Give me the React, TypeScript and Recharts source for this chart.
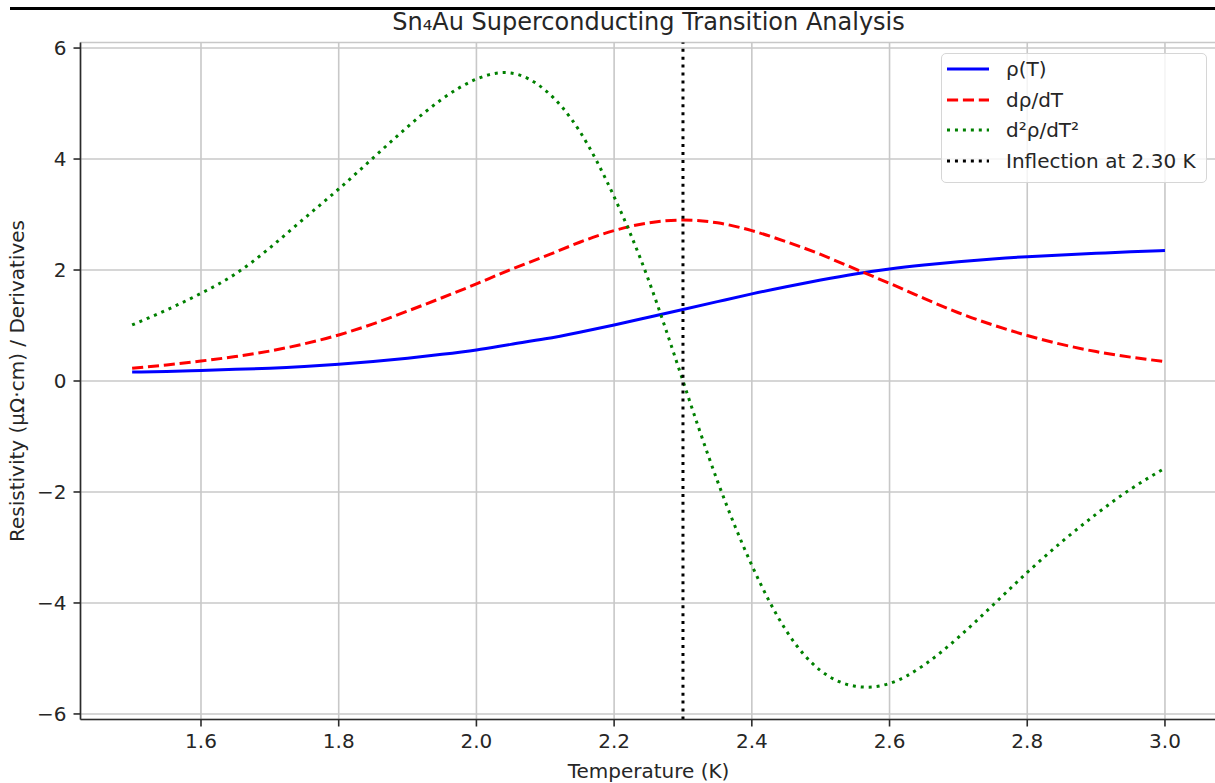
import React from 'react';
import { LineChart, Line, XAxis, YAxis, CartesianGrid, ReferenceLine } from 'recharts';

// temperature samples (K)
const temps = [
  1.5, 1.55, 1.6, 1.65, 1.7, 1.75, 1.8, 1.85, 1.9, 1.95, 2.0, 2.05, 2.1, 2.15, 2.2, 2.25,
  2.3, 2.35, 2.4, 2.45, 2.5, 2.55, 2.6, 2.65, 2.7, 2.75, 2.8, 2.85, 2.9, 2.95, 3.0,
];

// ρ(T)
const rho = [
  0.16, 0.17, 0.19, 0.21, 0.23, 0.26, 0.3, 0.35, 0.41, 0.48, 0.56, 0.66, 0.76, 0.88, 1.01, 1.15,
  1.29, 1.43, 1.57, 1.7, 1.82, 1.93, 2.02, 2.09, 2.15, 2.2, 2.24, 2.27, 2.3, 2.33, 2.35,
];

// dρ/dT
const dRho = [
  0.23, 0.29, 0.36, 0.44, 0.54, 0.67, 0.83, 1.03, 1.26, 1.5, 1.75, 2.01, 2.25, 2.5, 2.71, 2.85,
  2.9, 2.85, 2.71, 2.51, 2.28, 2.02, 1.76, 1.49, 1.23, 1.01, 0.82, 0.66, 0.53, 0.43, 0.35,
];

// d²ρ/dT²
const d2Rho = [
  1.01, 1.28, 1.58, 1.93, 2.4, 2.93, 3.46, 4.02, 4.58, 5.08, 5.44, 5.55, 5.24, 4.5, 3.32, 1.82,
  0.0, -1.8, -3.32, -4.5, -5.22, -5.5, -5.45, -5.12, -4.62, -4.04, -3.45, -2.9, -2.4, -1.95, -1.57,
];

const inflectionT = 2.3;
const xTicks = [1.6, 1.8, 2.0, 2.2, 2.4, 2.6, 2.8, 3.0];
const yTicks = [-6, -4, -2, 0, 2, 4, 6];

const data = temps.map((t, i) => ({ t, rho: rho[i], d1: dRho[i], d2: d2Rho[i] }));

const FONT = '"DejaVu Sans", sans-serif';
const TEXT = '#262626';
const SPINE = '#2b2b2b';

const legendItems = [
  { label: 'ρ(T)', color: '#0000ff', dash: undefined },
  { label: 'dρ/dT', color: '#ff0000', dash: '11.1 4.8' },
  { label: 'd²ρ/dT²', color: '#008000', dash: '3 4.95' },
  { label: `Inflection at ${inflectionT.toFixed(2)} K`, color: '#000000', dash: '3 4.95' },
];

const fmtY = (v: number) => (v < 0 ? `\u2212${Math.abs(v)}` : `${v}`);

export default function App() {
  const tickStyle = { fill: TEXT, fontSize: 20, fontFamily: FONT };

  return (
    <div
      style={{
        position: 'absolute',
        left: 0,
        top: 0,
        width: 1215,
        height: 783,
        overflow: 'hidden',
        background: '#fff',
        fontFamily: FONT,
      }}
    >
      <div style={{ position: 'absolute', left: 10, top: 7, width: 1205, height: 3, background: '#000' }} />

      <div
        style={{
          position: 'absolute',
          left: 0,
          top: 10,
          width: 1297,
          textAlign: 'center',
          fontSize: 24,
          lineHeight: '24px',
          color: TEXT,
        }}
      >
        Sn₄Au Superconducting Transition Analysis
      </div>

      <div style={{ position: 'absolute', left: 0, top: 0, width: 1215, height: 783, overflow: 'hidden' }}>
        <LineChart
          width={1218}
          height={783}
          data={data}
          margin={{ top: 42.5, right: 1.4, bottom: 23.5, left: 0 }}
        >
          <CartesianGrid stroke="#c8c8c8" strokeWidth={1.6} />
          <XAxis
            dataKey="t"
            type="number"
            domain={[1.425, 3.075]}
            ticks={xTicks}
            tickFormatter={(v: number) => v.toFixed(1)}
            allowDataOverflow
            height={40}
            tickSize={7}
            tickMargin={7}
            tick={tickStyle}
            tickLine={{ stroke: SPINE, strokeWidth: 1.6 }}
            axisLine={{ stroke: SPINE, strokeWidth: 1.6 }}
            label={{ value: 'Temperature (K)', position: 'bottom', offset: 4, fill: TEXT, fontSize: 20, fontFamily: FONT }}
          />
          <XAxis
            xAxisId="top"
            orientation="top"
            dataKey="t"
            type="number"
            domain={[1.425, 3.075]}
            height={0}
            tick={false}
            tickLine={false}
            axisLine={{ stroke: SPINE, strokeWidth: 1.6 }}
          />
          <YAxis
            type="number"
            domain={[-6.1, 6.1]}
            ticks={yTicks}
            tickFormatter={fmtY}
            allowDataOverflow
            width={80.5}
            tickSize={7}
            tickMargin={7}
            tick={tickStyle}
            tickLine={{ stroke: SPINE, strokeWidth: 1.6 }}
            axisLine={{ stroke: SPINE, strokeWidth: 1.6 }}
            label={{
              value: 'Resistivity (μΩ·cm) / Derivatives',
              angle: -90,
              position: 'insideLeft',
              offset: 17,
              style: { textAnchor: 'middle' },
              fill: TEXT,
              fontSize: 20,
              fontFamily: FONT,
            }}
          />
          <Line
            type="natural"
            dataKey="rho"
            stroke="#0000ff"
            strokeWidth={3}
            dot={false}
            activeDot={false}
            isAnimationActive={false}
          />
          <Line
            type="natural"
            dataKey="d1"
            stroke="#ff0000"
            strokeWidth={3}
            strokeDasharray="11.1 4.8"
            dot={false}
            activeDot={false}
            isAnimationActive={false}
          />
          <Line
            type="natural"
            dataKey="d2"
            stroke="#008000"
            strokeWidth={3}
            strokeDasharray="3 4.95"
            dot={false}
            activeDot={false}
            isAnimationActive={false}
          />
          <ReferenceLine x={inflectionT} stroke="#000" strokeWidth={3} strokeDasharray="3 4.95" />
        </LineChart>
      </div>

      <div
        style={{
          position: 'absolute',
          left: 941,
          top: 53,
          width: 264,
          height: 128,
          border: '1.5px solid #d6d6d6',
          borderRadius: 5,
          background: 'rgba(255,255,255,0.8)',
        }}
      />
      {legendItems.map((item, i) => {
        const cy = 69 + i * 30.6;
        return (
          <div key={item.label}>
            <svg style={{ position: 'absolute', left: 947, top: cy - 5 }} width={42} height={10}>
              <line x1={0} y1={5} x2={42} y2={5} stroke={item.color} strokeWidth={3} strokeDasharray={item.dash} />
            </svg>
            <div
              style={{
                position: 'absolute',
                left: 1006,
                top: cy - 12,
                fontSize: 20,
                lineHeight: '24px',
                color: TEXT,
                whiteSpace: 'nowrap',
              }}
            >
              {item.label}
            </div>
          </div>
        );
      })}
    </div>
  );
}
